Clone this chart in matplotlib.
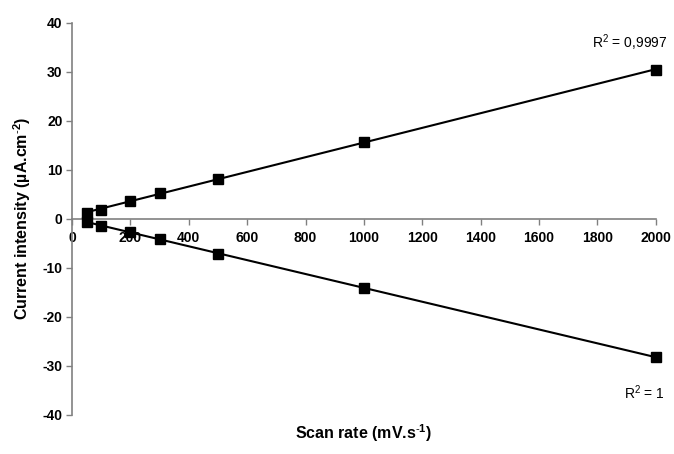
import numpy as np
import matplotlib.pyplot as plt

plt.rcParams['font.family'] = ['Liberation Sans', 'DejaVu Sans']
plt.rcParams['axes.unicode_minus'] = False
plt.rcParams['mathtext.fontset'] = 'custom'
plt.rcParams['mathtext.rm'] = 'Liberation Sans'
plt.rcParams['mathtext.bf'] = 'Liberation Sans:bold'
plt.rcParams['mathtext.default'] = 'regular'

# scan rates (mV/s) and current intensities (uA/cm2)
scan_rate = [50, 100, 200, 300, 500, 1000, 2000]
anodic = [1.1, 1.9, 3.7, 5.3, 8.2, 15.7, 30.4]
cathodic = [-0.6, -1.4, -2.7, -4.2, -7.1, -14.1, -28.2]
r2_labels = ['R$^2$ = 0,9997', 'R$^2$ = 1']

fig = plt.figure(figsize=(6.74, 4.54), dpi=100)
ax = fig.add_axes([0.107, 0.086, 0.866, 0.864])

x = np.array(scan_rate)
for ys in (anodic, cathodic):
    # linear trendline through each series
    k, b = np.polyfit(x, ys, 1)
    xx = np.array([x.min(), x.max()])
    ax.plot(xx, k * xx + b, color='black', lw=1.5, zorder=2, clip_on=False)
    ax.plot(x, ys, ls='none', marker='s', ms=6.8, color='black', zorder=3,
            clip_on=False)

ax.set_xlim(0, 2000)
ax.set_ylim(-40, 40)
ax.set_xticks(range(0, 2001, 200))
ax.set_yticks(range(-40, 41, 10))

ax.spines['top'].set_visible(False)
ax.spines['right'].set_visible(False)
ax.spines['bottom'].set_position(('data', 0))
for s in ('left', 'bottom'):
    ax.spines[s].set_color('#808080')
    ax.spines[s].set_linewidth(1.2)
ax.tick_params(axis='both', direction='out', length=4, width=1, color='#808080',
               labelsize=10)
ax.tick_params(axis='x', pad=5)
ax.tick_params(axis='y', pad=3)
for lbl in ax.get_xticklabels() + ax.get_yticklabels():
    lbl.set_fontweight('bold')

fig.text(0.033, 0.52, 'Current intensity (µA.cm$^{\\mathbf{\\text{-}2}}$)',
         fontsize=11.5, fontweight='bold', ha='center', va='center', rotation=90)
fig.text(0.54, 0.022, 'Scan rate (mV.s$^{\\mathbf{\\text{-}1}}$)', fontsize=11.5,
         fontweight='bold', ha='center', va='bottom')

ax.text(2040, 35.9, r2_labels[0], fontsize=10, ha='right', va='center')
ax.text(2030, -35.4, r2_labels[1], fontsize=10, ha='right', va='center')

fig.savefig('out.png', dpi=100)
